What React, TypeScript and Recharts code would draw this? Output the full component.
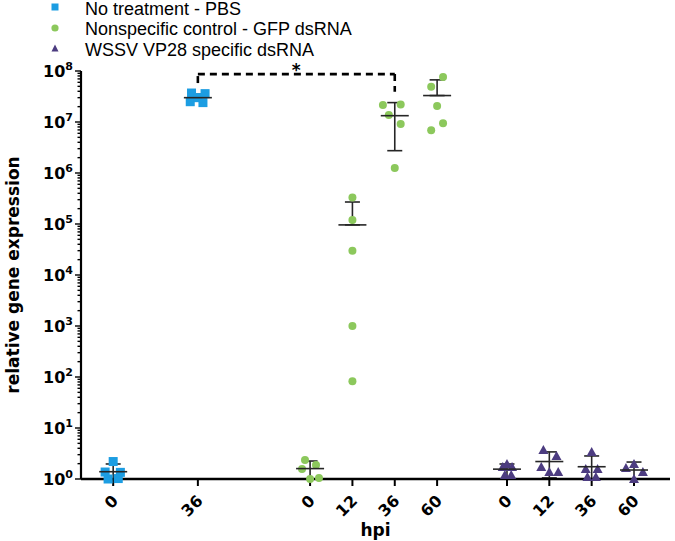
import { ErrorBar, Legend, ReferenceLine, Scatter, ScatterChart, XAxis, YAxis } from 'recharts'

const AXIS_FONT = '"DejaVu Sans", Verdana, sans-serif'
const LEGEND_FONT = '"Liberation Sans", Arial, sans-serif'

const BLUE = '#1c9de2'
const GREEN = '#8cc85c'
const PURPLE = '#4c3c80'
const BAR = '#262626'

// column positions on the hpi axis (gaps between the three treatments)
const pbsPos = [0, 2]
const gfpPos = [4.65, 5.65, 6.65, 7.65]
const vpPos = [9.3, 10.3, 11.3, 12.3]
const hpiLabels = ['0', '36', '0', '12', '36', '60', '0', '12', '36', '60']

// replicates per column
const pbsValues = [
  [2.2, 1.37, 1.35, 1.0, 1.02],
  [3.7e7, 3.6e7, 2.5e7, 2.4e7, 3.0e7],
]
const pbsSpread = [
  [0, -0.19, 0.17, -0.12, 0.12],
  [-0.15, 0.17, -0.18, 0.12, 0],
]
const gfpValues = [
  [2.35, 1.57, 1.88, 1.0, 1.05],
  [3.3e5, 1.2e5, 3.0e4, 1.0e3, 83],
  [2.15e7, 2.2e7, 1.37e7, 9.1e6, 1.26e6],
  [7.6e7, 4.9e7, 2.05e7, 9.5e6, 6.9e6],
]
const gfpSpread = [
  [-0.12, -0.19, 0.14, 0, 0.21],
  [0, 0, 0, 0, 0],
  [-0.28, 0.14, -0.14, 0.14, 0],
  [0.14, -0.14, 0, 0.14, -0.14],
]
const vpValues = [
  [1.72, 1.97, 1.72, 1.2, 1.2],
  [3.7, 2.83, 1.72, 1.37, 1.37],
  [3.38, 1.57, 1.57, 1.1, 1.1],
  [1.64, 1.97, 1.37, 1.0],
]
const vpSpread = [
  [-0.1, 0, 0.12, -0.05, 0.1],
  [-0.14, 0.17, -0.19, 0, 0.21],
  [0, -0.14, 0.14, -0.1, 0.1],
  [-0.19, 0, 0.21, 0],
]

// mean with error bar ends
const pbsMean = [1.39, 3.0e7]
const pbsLow = [1, 2.6e7]
const pbsHigh = [1.97, 3.5e7]
const gfpMean = [1.6, 9.6e4, 1.33e7, 3.3e7]
const gfpLow = [1, 9.6e4, 2.74e6, 3.3e7]
const gfpHigh = [2.25, 2.7e5, 2.4e7, 6.7e7]
const vpMean = [1.56, 2.2, 1.74, 1.5]
const vpLow = [1, 1.05, 1, 1]
const vpHigh = [1.97, 3.4, 2.83, 2.15]

// significance bracket PBS 36 vs GFP 36
const bracketLeft = 5.8e7
const bracketTop = 8.7e7
const bracketRight = 3.9e7

const yMajor = [1, 1e1, 1e2, 1e3, 1e4, 1e5, 1e6, 1e7, 1e8]
const yMinorSteps = [2, 3, 4, 5, 6, 7, 8, 9]
const yTicks = yMajor.flatMap((m, i) =>
  i === yMajor.length - 1 ? [m] : [m, ...yMinorSteps.map((s) => m * s)]
)

const points = (pos: number[], values: number[][], spread: number[][]) =>
  pos.flatMap((p, i) => values[i].map((v, j) => ({ x: p + spread[i][j], y: v })))

const summary = (pos: number[], mean: number[], low: number[], high: number[]) =>
  pos.map((p, i) => ({ x: p, y: mean[i], err: [mean[i] - low[i], high[i] - mean[i]] }))

const allPos = [...pbsPos, ...gfpPos, ...vpPos]

const Square = (p: any) => <rect x={p.cx - 4.5} y={p.cy - 4.5} width={9} height={9} fill={BLUE} />
const Dot = (p: any) => <circle cx={p.cx} cy={p.cy} r={4} fill={GREEN} />
const Tri = (p: any) => (
  <polygon points={`${p.cx},${p.cy - 5} ${p.cx + 5},${p.cy + 4} ${p.cx - 5},${p.cy + 4}`} fill={PURPLE} />
)
const MeanLine = (p: any) => (
  <line x1={p.cx - 14} x2={p.cx + 14} y1={p.cy} y2={p.cy} stroke={BAR} strokeWidth={1.6} />
)

const YTick = ({ x, y, payload }: any) => {
  const lg = Math.log10(payload.value)
  const exp = Math.round(lg)
  const major = Math.abs(lg - exp) < 1e-6
  return (
    <g>
      <line x1={x - (major ? 6 : 3.5)} x2={x} y1={y} y2={y} stroke="#000" strokeWidth={1.4} />
      {major && (
        <text x={x - 8} y={y + 6} textAnchor="end" fontFamily={AXIS_FONT} fontWeight="bold" fontSize={16} fill="#000">
          10
          <tspan dy={-7} fontSize={11}>
            {exp}
          </tspan>
        </text>
      )}
    </g>
  )
}

const XTick = ({ x, y, payload, index }: any) => (
  <text
    x={x + 2}
    y={y + 10}
    transform={`rotate(-45, ${x + 2}, ${y + 10})`}
    textAnchor="end"
    dominantBaseline="central"
    fontFamily={AXIS_FONT}
    fontWeight="bold"
    fontSize={16}
    fill="#000"
  >
    {hpiLabels[index] ?? payload.value}
  </text>
)

const legendItems = [
  { label: 'No treatment - PBS', mark: 'square', color: BLUE },
  { label: 'Nonspecific control - GFP dsRNA', mark: 'circle', color: GREEN },
  { label: 'WSSV VP28 specific dsRNA', mark: 'triangle', color: PURPLE },
]

const LegendBox = () => (
  <div style={{ position: 'relative', fontFamily: LEGEND_FONT, fontSize: 18, color: '#000' }}>
    {legendItems.map((it, i) => (
      <div key={it.label} style={{ position: 'absolute', top: i * 20.5 + 0.5, left: 0, height: 17, lineHeight: '17px', whiteSpace: 'nowrap' }}>
        <svg width={10} height={10} style={{ position: 'absolute', left: 50, top: 1.5 }}>
          {it.mark === 'square' && <rect x={1.5} y={1.5} width={7} height={7} fill={it.color} />}
          {it.mark === 'circle' && <circle cx={5} cy={5} r={3.6} fill={it.color} />}
          {it.mark === 'triangle' && <polygon points="5,1.5 8.5,8.5 1.5,8.5" fill={it.color} />}
        </svg>
        <span style={{ position: 'absolute', left: 85 }}>{it.label}</span>
      </div>
    ))}
  </div>
)

const dash = { stroke: '#000', strokeWidth: 2.6, strokeDasharray: '7 5' }

export default function App() {
  return (
    <div style={{ position: 'absolute', left: 0, top: 0, width: 675, height: 541, background: '#fff' }}>
      <ScatterChart width={675} height={541} margin={{ top: 71, right: 5, bottom: 0, left: 0 }}>
        <XAxis
          type="number"
          dataKey="x"
          domain={[-0.76, 13.15]}
          ticks={allPos}
          interval={0}
          height={62}
          tickSize={7}
          tickMargin={2}
          axisLine={{ stroke: '#000', strokeWidth: 2.4 }}
          tickLine={{ stroke: '#000', strokeWidth: 2 }}
          tick={<XTick />}
          label={{ value: 'hpi', position: 'insideBottom', offset: 5, fontFamily: AXIS_FONT, fontWeight: 'bold', fontSize: 17, fill: '#000' }}
        />
        <YAxis
          type="number"
          dataKey="y"
          scale="log"
          domain={[1, 1e8]}
          ticks={yTicks}
          interval={0}
          width={81}
          tickSize={0}
          tickMargin={0}
          tickLine={false}
          axisLine={{ stroke: '#000', strokeWidth: 2.2 }}
          tick={<YTick />}
          label={{
            content: ({ viewBox }: any) => (
              <text
                x={13}
                y={viewBox.y + viewBox.height / 2}
                transform={`rotate(-90, 13, ${viewBox.y + viewBox.height / 2})`}
                textAnchor="middle"
                dominantBaseline="central"
                fontFamily={AXIS_FONT}
                fontWeight="bold"
                fontSize={17}
                fill="#000"
              >
                relative gene expression
              </text>
            ),
          }}
        />
        <Legend verticalAlign="middle" align="center" layout="horizontal" wrapperStyle={{ top: 0, left: 0, width: 420 }} content={<LegendBox />} />

        <ReferenceLine segment={[{ x: pbsPos[1], y: bracketLeft }, { x: pbsPos[1], y: bracketTop }]} {...dash} />
        <ReferenceLine
          segment={[{ x: pbsPos[1], y: bracketTop }, { x: gfpPos[2], y: bracketTop }]}
          {...dash}
          label={{ value: '*', position: 'top', offset: -2, fontFamily: AXIS_FONT, fontWeight: 'bold', fontSize: 17, fill: '#000' }}
        />
        <ReferenceLine segment={[{ x: gfpPos[2], y: bracketTop }, { x: gfpPos[2], y: bracketRight }]} {...dash} />

        <Scatter name="pbs" data={points(pbsPos, pbsValues, pbsSpread)} shape={<Square />} isAnimationActive={false} />
        <Scatter name="gfp" data={points(gfpPos, gfpValues, gfpSpread)} shape={<Dot />} isAnimationActive={false} />
        <Scatter name="vp" data={points(vpPos, vpValues, vpSpread)} shape={<Tri />} isAnimationActive={false} />

        <Scatter name="pbsMean" data={summary(pbsPos, pbsMean, pbsLow, pbsHigh)} shape={<MeanLine />} isAnimationActive={false}>
          <ErrorBar dataKey="err" direction="y" width={7.5} stroke={BAR} strokeWidth={1.6} isAnimationActive={false} />
        </Scatter>
        <Scatter name="gfpMean" data={summary(gfpPos, gfpMean, gfpLow, gfpHigh)} shape={<MeanLine />} isAnimationActive={false}>
          <ErrorBar dataKey="err" direction="y" width={7.5} stroke={BAR} strokeWidth={1.6} isAnimationActive={false} />
        </Scatter>
        <Scatter name="vpMean" data={summary(vpPos, vpMean, vpLow, vpHigh)} shape={<MeanLine />} isAnimationActive={false}>
          <ErrorBar dataKey="err" direction="y" width={7.5} stroke={BAR} strokeWidth={1.6} isAnimationActive={false} />
        </Scatter>
      </ScatterChart>
    </div>
  )
}
